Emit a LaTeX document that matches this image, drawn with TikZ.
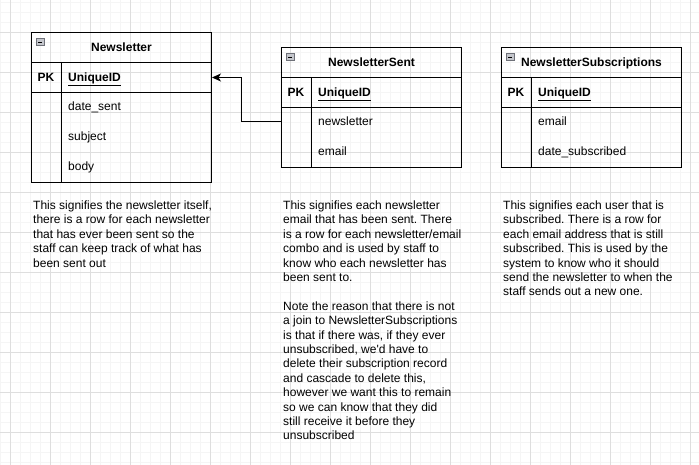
\documentclass[tikz,border=0pt]{standalone}
\usepackage{fontspec}
\setmainfont{Liberation Sans}
\usetikzlibrary{arrows.meta}
\frenchspacing
\definecolor{gridmajor}{RGB}{222,222,222}
\definecolor{gridminor}{RGB}{245,245,245}
\definecolor{iconfill}{RGB}{196,198,204}
\definecolor{iconborder}{RGB}{110,112,120}
\tikzset{
  minorline/.style={draw=gridminor, line width=0.8pt},
  majorline/.style={draw=gridmajor, line width=0.8pt},
  cell/.style={draw, line width=1pt, minimum width=180pt, minimum height=30pt, inner sep=0pt, anchor=north west},
  bodycell/.style={cell, minimum height=#1},
  divider/.style={draw, line width=1pt},
  fld/.style={anchor=west, inner sep=0pt, text height=9.4pt, text depth=2pt, font=\fontsize{12}{14.4}\selectfont},
  ttl/.style={fld, anchor=center, font=\fontsize{12}{14.4}\selectfont\bfseries},
  icon/.style={draw=iconborder, fill=iconfill, line width=0.8pt, minimum size=7.5pt, inner sep=0pt, anchor=north west,
    path picture={\draw[line width=1pt, black] ([xshift=1.7pt]path picture bounding box.west) -- ([xshift=-1.7pt]path picture bounding box.east);}},
  desc/.style={anchor=base west, align=left, inner sep=0pt, font=\fontsize{12}{14.4}\selectfont},
  conn/.style={draw, line width=1pt, -{Stealth[length=9pt,width=8pt,inset=2.5pt]}},
}
\begin{document}
\begin{tikzpicture}[x=1pt,y=-1pt]
\useasboundingbox (0,0) rectangle (699,465);
\fill[white] (0,0) rectangle (699,465);
% grid
\foreach \gx in {0,10,...,690} \draw[minorline] (\gx,0) -- (\gx,465);
\foreach \gy in {2,12,...,462} \draw[minorline] (0,\gy) -- (699,\gy);
\foreach \gx in {10,50,...,690} \draw[majorline] (\gx,0) -- (\gx,465);
\foreach \gy in {32,72,...,432} \draw[majorline] (0,\gy) -- (699,\gy);

% ---------- Newsletter ----------
\node[cell] (nl-hdr) at (31,32) {};
\node[ttl] (nl-title) at (nl-hdr.center) {Newsletter};
\node[icon] (nl-icon) at ([xshift=5pt,yshift=-6pt]nl-hdr.north west) {};
\node[cell] (nl-pk) at (31,62) {};
\node[bodycell=90pt] (nl-body) at (31,92) {};
\draw[divider] ([xshift=30pt]nl-pk.north west) -- ([xshift=30pt]nl-body.south west);
\node[ttl] (nl-pkl) at ([xshift=15pt]nl-pk.west) {PK};
\node[fld] (nl-id) at ([xshift=37pt]nl-pk.west) {\bfseries\underline{UniqueID}};
\node[fld] (nl-f1) at ([xshift=37pt,yshift=-15pt]nl-body.north west) {date\_sent};
\node[fld] (nl-f2) at ([xshift=37pt,yshift=-45pt]nl-body.north west) {subject};
\node[fld] (nl-f3) at ([xshift=37pt,yshift=-75pt]nl-body.north west) {body};

% ---------- NewsletterSent ----------
\node[cell] (ns-hdr) at (281,47) {};
\node[ttl] (ns-title) at (ns-hdr.center) {NewsletterSent};
\node[icon] (ns-icon) at ([xshift=5pt,yshift=-6pt]ns-hdr.north west) {};
\node[cell] (ns-pk) at (281,77) {};
\node[bodycell=60pt] (ns-body) at (281,107) {};
\draw[divider] ([xshift=30pt]ns-pk.north west) -- ([xshift=30pt]ns-body.south west);
\node[ttl] (ns-pkl) at ([xshift=15pt]ns-pk.west) {PK};
\node[fld] (ns-id) at ([xshift=37pt]ns-pk.west) {\bfseries\underline{UniqueID}};
\node[fld] (ns-f1) at ([xshift=37pt,yshift=-15pt]ns-body.north west) {newsletter};
\node[fld] (ns-f2) at ([xshift=37pt,yshift=-45pt]ns-body.north west) {email};

% ---------- NewsletterSubscriptions ----------
\node[cell] (sub-hdr) at (501,47) {};
\node[ttl] (sub-title) at (sub-hdr.center) {NewsletterSubscriptions};
\node[icon] (sub-icon) at ([xshift=5pt,yshift=-6pt]sub-hdr.north west) {};
\node[cell] (sub-pk) at (501,77) {};
\node[bodycell=60pt] (sub-body) at (501,107) {};
\draw[divider] ([xshift=30pt]sub-pk.north west) -- ([xshift=30pt]sub-body.south west);
\node[ttl] (sub-pkl) at ([xshift=15pt]sub-pk.west) {PK};
\node[fld] (sub-id) at ([xshift=37pt]sub-pk.west) {\bfseries\underline{UniqueID}};
\node[fld] (sub-f1) at ([xshift=37pt,yshift=-15pt]sub-body.north west) {email};
\node[fld] (sub-f2) at ([xshift=37pt,yshift=-45pt]sub-body.north west) {date\_subscribed};

% ---------- connector ----------
\draw[conn] (ns-body.west |- ns-f1.west) -- ++(-40,0) |- (nl-pk.east);

% ---------- descriptions (anchored at the baseline of their last line) ----------
\node[desc] (nl-desc) at (33,267.1) {This signifies the newsletter itself,\\there is a row for each newsletter\\that has ever been sent so the\\staff can keep track of what has\\been sent out};
\node[desc] (ns-desc) at (283,439.9) {This signifies each newsletter\\email that has been sent. There\\is a row for each newsletter/email\\combo and is used by staff to\\know who each newsletter has\\been sent to.\\[14.4pt]Note the reason that there is not\\a join to NewsletterSubscriptions\\is that if there was, if they ever\\unsubscribed, we\textquotesingle d have to\\delete their subscription record\\and cascade to delete this,\\however we want this to remain\\so we can know that they did\\still receive it before they\\unsubscribed};
\node[desc] (sub-desc) at (503,295.9) {This signifies each user that is\\subscribed. There is a row for\\each email address that is still\\subscribed. This is used by the\\system to know who it should\\send the newsletter to when the\\staff sends out a new one.};
\end{tikzpicture}
\end{document}
